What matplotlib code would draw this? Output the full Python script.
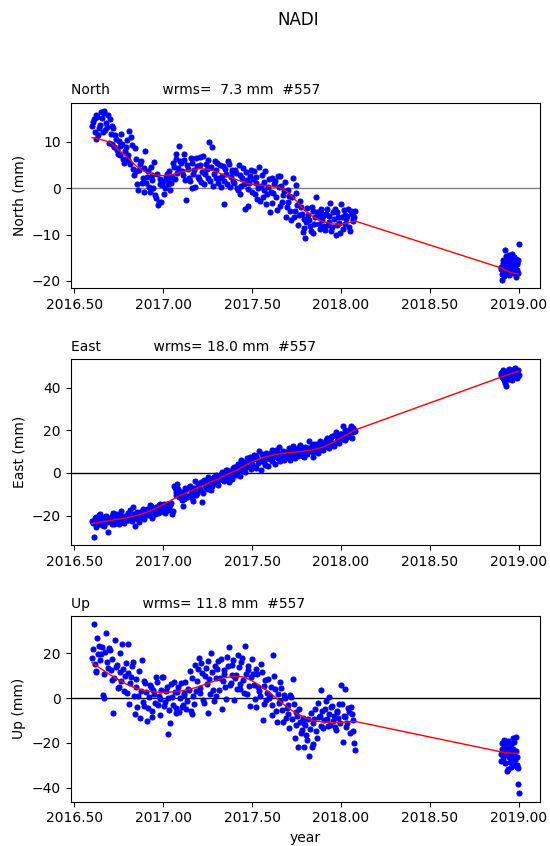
import matplotlib
matplotlib.use('Agg')
import matplotlib.pyplot as plt
from matplotlib.ticker import FormatStrFormatter

station = 'NADI'
n_obs = 557

# observation epochs (decimal year)
epochs = [
    2016.60, 2016.61, 2016.62, 2016.63, 2016.64, 2016.65, 2016.66, 2016.67, 2016.68, 2016.69,
    2016.70, 2016.71, 2016.72, 2016.73, 2016.74, 2016.75, 2016.76, 2016.77, 2016.78, 2016.79,
    2016.80, 2016.81, 2016.82, 2016.83, 2016.84, 2016.85, 2016.86, 2016.87, 2016.88, 2016.89,
    2016.90, 2016.91, 2016.92, 2016.93, 2016.94, 2016.95, 2016.96, 2016.97, 2016.98, 2016.99,
    2017.00, 2017.01, 2017.02, 2017.03, 2017.04, 2017.05, 2017.06, 2017.07, 2017.08, 2017.09,
    2017.10, 2017.11, 2017.12, 2017.13, 2017.14, 2017.15, 2017.16, 2017.17, 2017.18, 2017.19,
    2017.20, 2017.21, 2017.22, 2017.23, 2017.24, 2017.25, 2017.26, 2017.27, 2017.28, 2017.29,
    2017.30, 2017.31, 2017.32, 2017.33, 2017.34, 2017.35, 2017.36, 2017.37, 2017.38, 2017.39,
    2017.40, 2017.41, 2017.42, 2017.43, 2017.44, 2017.45, 2017.46, 2017.47, 2017.48, 2017.49,
    2017.50, 2017.51, 2017.52, 2017.53, 2017.54, 2017.55, 2017.56, 2017.57, 2017.58, 2017.59,
    2017.60, 2017.61, 2017.62, 2017.63, 2017.64, 2017.65, 2017.66, 2017.67, 2017.68, 2017.69,
    2017.70, 2017.71, 2017.72, 2017.73, 2017.74, 2017.75, 2017.76, 2017.77, 2017.78, 2017.79,
    2017.80, 2017.81, 2017.82, 2017.83, 2017.84, 2017.85, 2017.86, 2017.87, 2017.88, 2017.89,
    2017.90, 2017.91, 2017.92, 2017.93, 2017.94, 2017.95, 2017.96, 2017.97, 2017.98, 2017.99,
    2018.00, 2018.01, 2018.02, 2018.03, 2018.04, 2018.05, 2018.06, 2018.07, 2018.08,
    2018.900, 2018.905, 2018.910, 2018.915, 2018.920, 2018.925, 2018.930, 2018.935,
    2018.940, 2018.945, 2018.950, 2018.955, 2018.960, 2018.965, 2018.970, 2018.975,
    2018.980, 2018.985, 2018.990, 2018.995, 2019.000,
]

north = [
    13.5, 14.9, 10.7, 15.3, 12.9, 16.4, 12.1, 16.6, 14.1, 15.7,
    15.0, 9.5, 12.9, 11.4, 8.3, 10.2, 7.1, 9.6, 5.5, 8.8,
    6.0, 12.3, 11.1, 4.2, 8.6, 3.6, -0.4, 5.2, 1.0, -0.9,
    7.9, 2.4, 0.3, 4.6, 1.8, 5.6, -2.2, -3.6, 0.8, -2.9,
    1.6, 0.1, 3.1, 1.9, -0.4, 2.5, 4.6, 7.4, 3.2, 9.1,
    5.4, 2.8, 6.0, -2.5, 4.2, 1.5, 5.5, 3.0, 0.3, 4.8,
    2.0, 6.8, 3.5, 0.8, 5.3, 2.1, 9.9, 4.6, 0.4, 5.8,
    3.9, 1.0, 5.0, 2.7, -3.4, 4.2, 0.9, 5.3, 2.4, 4.0,
    1.0, 3.3, -0.5, 2.8, 0.4, 4.4, -4.4, 1.8, -3.8, 2.7,
    -0.8, 3.6, 1.2, -2.4, 4.6, 0.5, -1.9, 1.4, -3.5, 0.2,
    -5.2, 2.1, -1.0, 1.5, -4.8, 0.2, 2.7, -2.9, -0.6, -6.3,
    -3.0, -1.6, -6.8, 2.1, -4.9, 0.6, -7.9, -2.7, -5.5, -8.6,
    -10.8, -4.3, -6.9, -9.2, -5.0, -7.8, -2.0, -6.2, -8.9, -5.3,
    -6.0, -9.0, -4.4, -7.2, -3.3, -8.4, -6.6, -10.1, -5.2, -7.5,
    -3.5, -8.9, -5.8, -6.7, -4.6, -9.2, -5.5, -7.0, -5.0,
    -17.4, -19.8, -16.2, -18.9, -13.3, -17.0, -15.6, -18.1, -16.6, -14.5,
    -17.5, -15.2, -16.8, -18.4, -15.9, -14.8, -17.3, -19.2, -16.1, -15.4, -12.0,
]

east = [
    -22.5, -29.9, -20.8, -24.6, -19.8, -23.1, -21.5, -24.9, -20.3, -27.7,
    -21.0, -23.8, -18.9, -22.6, -20.2, -24.1, -19.6, -21.8, -23.3, -20.4,
    -18.7, -22.0, -20.5, -16.1, -24.9, -19.8, -21.6, -18.2, -20.9, -17.5,
    -19.8, -16.9, -18.3, -15.6, -20.2, -17.4, -15.9, -18.8, -14.6, -17.1,
    -16.2, -18.9, -14.5, -17.6, -15.0, -19.2, -6.3, -8.8, -5.4, -11.2,
    -9.0, -15.6, -12.3, -7.6, -10.8, -5.9, -8.4, -13.0, -3.9, -9.6,
    -5.3, -8.2, -13.6, -3.2, -6.9, -1.9, -5.5, -8.0, -2.6, -4.7,
    -1.0, -5.8, -2.9, 0.6, -3.9, -0.6, 1.4, -4.2, 0.8, -1.7,
    2.7, -0.9, 4.3, 1.2, 5.9, 2.0, 0.3, 6.8, 3.6, 7.5,
    4.1, 8.3, 2.5, 6.4, 10.4, 1.5, 7.6, 5.0, 9.2, 3.3,
    6.5, 11.0, 7.4, 4.2, 9.7, 12.1, 5.8, 8.6, 6.0, 10.0,
    7.2, 11.8, 8.5, 12.5, 6.9, 10.2, 8.0, 13.1, 9.3, 7.5,
    12.2, 8.7, 14.8, 10.9, 7.6, 13.4, 11.3, 9.5, 15.0, 12.0,
    10.9, 13.8, 16.5, 11.6, 14.9, 17.4, 12.8, 19.3, 15.1, 13.9,
    18.3, 22.1, 15.4, 19.2, 17.3, 20.6, 16.2, 21.0, 19.5,
    47.0, 45.2, 48.3, 43.5, 46.6, 44.2, 41.0, 47.5, 45.8, 43.9,
    46.9, 44.8, 48.0, 46.2, 45.1, 47.7, 49.4, 46.3, 44.9, 48.4, 45.8,
]

up = [
    18.0, 33.0, 12.2, 27.0, 23.4, 19.6, 1.5, 0.2, 29.0, 13.5,
    21.5, 8.2, -6.4, 26.0, 14.8, 5.0, 11.9, 24.3, 3.1, 15.9,
    24.2, -2.5, 9.6, 16.3, -7.0, 4.8, 1.2, -9.0, 17.3, -3.4,
    6.8, -10.2, 0.5, 4.9, -5.6, 1.9, 9.3, -3.0, -7.3, 3.8,
    9.5, -1.8, 5.2, -15.8, -10.9, 0.6, 7.2, -4.5, 2.6, -6.1,
    6.9, -3.0, 1.5, -5.0, 4.2, 12.3, -7.2, 0.9, 15.0, 7.5,
    17.8, 2.4, 11.2, -2.0, 13.6, -6.8, 8.7, 20.0, 3.5, 14.2,
    1.2, 16.8, 9.0, -4.8, 12.5, 5.1, 18.4, 22.8, 7.0, 14.9,
    -0.8, 10.2, 19.5, 4.3, 16.0, 8.0, 23.3, 1.9, 12.8, -3.6,
    17.5, 6.1, -4.0, 10.8, 3.2, 15.3, -9.8, 5.6, -1.0, 8.7,
    0.8, -7.5, 19.2, 3.9, -10.6, -2.1, 7.1, -5.3, 1.5, -8.7,
    -3.0, -13.4, 0.4, 8.6, -17.8, -6.0, -22.0, -10.5, -14.2, -21.7,
    -12.0, -18.5, -26.0, -6.8, -20.5, -9.3, -14.6, -2.0, -7.8, 3.6,
    -13.2, -5.0, -9.4, 0.5, -11.8, -3.4, -8.0, -14.1, -6.2, -2.6,
    5.8, -19.5, -8.5, -12.9, -4.3, -15.6, -6.9, -9.8, -23.0,
    -28.0, -22.5, -25.8, -18.5, -29.0, -20.7, -24.1, -32.6, -19.2, -26.5,
    -21.8, -30.9, -23.4, -18.0, -27.2, -25.0, -29.8, -17.2, -30.6, -38.2, -42.5,
]

# the in-between epochs
epochs_b = [
    2016.605, 2016.615, 2016.625, 2016.635, 2016.645, 2016.655, 2016.665, 2016.675, 2016.685, 2016.695,
    2016.705, 2016.715, 2016.725, 2016.735, 2016.745, 2016.755, 2016.765, 2016.775, 2016.785, 2016.795,
    2016.805, 2016.815, 2016.825, 2016.835, 2016.845, 2016.855, 2016.865, 2016.875, 2016.885, 2016.895,
    2016.905, 2016.915, 2016.925, 2016.935, 2016.945, 2016.955, 2016.965, 2016.975, 2016.985, 2016.995,
    2017.005, 2017.015, 2017.025, 2017.035, 2017.045, 2017.055, 2017.065, 2017.075, 2017.085, 2017.095,
    2017.105, 2017.115, 2017.125, 2017.135, 2017.145, 2017.155, 2017.165, 2017.175, 2017.185, 2017.195,
    2017.205, 2017.215, 2017.225, 2017.235, 2017.245, 2017.255, 2017.265, 2017.275, 2017.285, 2017.295,
    2017.305, 2017.315, 2017.325, 2017.335, 2017.345, 2017.355, 2017.365, 2017.375, 2017.385, 2017.395,
    2017.405, 2017.415, 2017.425, 2017.435, 2017.445, 2017.455, 2017.465, 2017.475, 2017.485, 2017.495,
    2017.505, 2017.515, 2017.525, 2017.535, 2017.545, 2017.555, 2017.565, 2017.575, 2017.585, 2017.595,
    2017.605, 2017.615, 2017.625, 2017.635, 2017.645, 2017.655, 2017.665, 2017.675, 2017.685, 2017.695,
    2017.705, 2017.715, 2017.725, 2017.735, 2017.745, 2017.755, 2017.765, 2017.775, 2017.785, 2017.795,
    2017.805, 2017.815, 2017.825, 2017.835, 2017.845, 2017.855, 2017.865, 2017.875, 2017.885, 2017.895,
    2017.905, 2017.915, 2017.925, 2017.935, 2017.945, 2017.955, 2017.965, 2017.975, 2017.985, 2017.995,
    2018.005, 2018.015, 2018.025, 2018.035, 2018.045, 2018.055, 2018.065, 2018.075,
    2018.9025, 2018.9075, 2018.9125, 2018.9175, 2018.9225, 2018.9275, 2018.9325,
    2018.9375, 2018.9425, 2018.9475, 2018.9525, 2018.9575, 2018.9625, 2018.9675,
    2018.9725, 2018.9775, 2018.9825, 2018.9875, 2018.9925, 2018.9975,
]

north_b = [
    14.2, 12.0, 15.8, 11.4, 13.6, 15.1, 16.2, 12.6, 13.2, 9.8,
    11.6, 13.3, 8.9, 10.6, 7.4, 9.1, 11.7, 6.3, 8.0, 10.4,
    7.2, 5.1, 9.4, 2.8, 6.3, 0.8, 3.9, 5.9, 2.1, 4.3,
    1.2, 3.7, -0.8, 2.9, 0.1, -1.5, 3.0, -3.0, 1.9, 0.6,
    -1.2, 2.4, 0.9, 3.8, 1.0, 5.5, 2.0, 6.2, 4.4, 5.8,
    3.6, 7.3, 1.8, 4.9, 2.2, 6.5, 0.0, 3.9, 6.4, 2.5,
    4.9, 1.3, 7.0, 3.0, 4.1, 6.1, 1.6, 8.8, 3.1, 2.2,
    5.4, 2.2, 0.3, 4.7, 1.6, 3.1, 5.9, 0.2, 3.5, 1.5,
    3.9, 0.0, 4.9, -1.3, 2.2, 0.8, 3.4, -0.2, 1.1, 4.0,
    1.9, -1.3, 2.5, 0.0, -2.8, 2.9, -0.4, 3.8, -1.2, 1.9,
    -0.9, -3.2, 0.9, -2.0, 2.6, -3.8, 0.5, -1.4, 1.3, -4.1,
    -0.5, -5.0, -2.0, -6.2, -1.1, -3.6, -5.9, -4.0, -9.5, -6.6,
    -7.3, -5.7, -8.2, -4.1, -9.6, -6.3, -5.1, -7.7, -4.5, -6.8,
    -8.1, -5.6, -7.9, -6.1, -9.2, -5.1, -4.5, -8.0, -6.3, -9.6,
    -6.2, -4.8, -7.7, -6.0, -8.3, -4.9, -6.6, -6.2,
    -16.9, -18.5, -15.4, -17.7, -16.0, -14.6, -17.9, -16.3, -18.8, -15.0,
    -16.5, -17.1, -14.2, -15.7, -16.9, -18.0, -15.3, -17.6, -16.4, -18.3,
]

east_b = [
    -23.6, -21.4, -25.2, -22.0, -19.2, -24.4, -22.3, -20.7, -23.1, -21.5,
    -22.9, -20.3, -24.0, -19.4, -22.5, -21.1, -17.8, -23.2, -20.0, -22.2,
    -20.1, -17.6, -22.6, -19.1, -21.4, -18.5, -23.0, -19.9, -16.8, -21.5,
    -17.8, -19.9, -15.2, -21.0, -17.0, -19.4, -16.4, -15.1, -18.5, -16.2,
    -14.8, -17.2, -15.9, -16.9, -14.0, -17.8, -7.2, -10.5, -7.5, -9.0,
    -12.5, -9.9, -7.0, -11.3, -6.4, -9.7, -12.0, -7.1, -10.3, -5.2,
    -7.6, -4.1, -9.5, -5.8, -3.1, -7.4, -4.4, -6.2, -1.9, -3.6,
    -4.5, -2.0, -0.4, -3.3, -1.8, 1.6, -2.5, 0.1, -3.0, 2.2,
    0.4, 3.3, 1.5, -1.5, 3.9, 5.1, 2.8, 4.4, 6.0, 1.7,
    6.6, 3.0, 7.9, 4.8, 5.5, 8.9, 6.3, 3.9, 7.0, 8.1,
    9.3, 5.6, 8.0, 10.6, 7.0, 8.8, 6.8, 10.4, 9.0, 8.2,
    9.8, 6.3, 10.9, 9.1, 11.2, 8.3, 12.3, 10.7, 7.9, 11.5,
    9.4, 11.7, 10.1, 12.9, 9.8, 11.9, 13.6, 10.6, 12.7, 14.2,
    13.1, 15.6, 12.3, 13.9, 16.9, 14.3, 17.9, 14.7, 16.2, 18.4,
    15.9, 17.8, 20.1, 16.8, 18.9, 22.0, 19.3, 20.4,
    45.9, 47.4, 44.6, 46.8, 42.3, 45.5, 47.9, 44.0, 46.1, 48.6,
    45.3, 47.2, 43.8, 46.5, 48.9, 45.0, 46.7, 47.8, 44.5, 46.0,
]

up_b = [
    22.0, 15.5, 11.5, 19.8, 17.0, 23.0, 10.8, 20.5, 16.2, 22.4,
    12.8, 17.6, 9.0, 13.9, 4.6, 20.2, 7.9, 13.0, 9.8, 2.5,
    11.3, 6.9, 14.5, 0.8, 8.4, -3.8, 12.0, 3.0, -1.5, 7.5,
    2.7, -4.6, 5.9, -8.5, 3.5, -2.3, 7.4, 0.9, -0.5, 9.6,
    -3.5, 3.1, 0.0, -5.4, 6.4, -2.9, 2.8, -6.7, 4.8, 0.3,
    -4.0, 2.2, 7.4, -1.3, 3.6, -5.8, 9.1, -2.7, 3.0, 12.9,
    4.6, 15.8, -0.6, 9.8, 6.3, 16.6, 1.9, 11.8, -1.2, 8.9,
    13.0, 3.8, 17.7, 7.6, 11.0, -0.3, 14.2, 5.9, 10.5, 16.9,
    8.9, 4.0, 13.8, 6.5, 17.9, 2.2, 11.0, 14.6, 5.5, 9.3,
    10.9, -0.5, 13.1, 4.9, 1.0, 11.6, -2.4, 8.3, 2.2, 0.1,
    5.0, -3.0, 10.1, -5.9, 2.0, -1.3, 4.6, -10.6, 0.0, -4.5,
    -7.2, 1.3, -9.5, -2.8, -12.0, -7.9, -4.8, -15.4, -8.8, -11.0,
    -16.4, -9.2, -13.7, -21.8, -11.2, -4.9, -17.6, -8.6, -12.4, -5.6,
    -9.8, -1.4, -12.6, -7.0, -3.9, -10.3, -12.8, -5.9, -9.0, -11.1,
    -2.5, -8.1, 4.2, -11.3, -6.0, -4.0, -14.7, -20.2,
    -24.8, -20.2, -27.5, -22.0, -25.3, -19.5, -23.2, -31.6, -21.0, -24.7,
    -28.4, -20.3, -26.1, -22.9, -19.8, -27.8, -23.7, -29.9, -26.4, -31.2,
]

# fitted model (red curve)
model_t = [
    2016.60, 2016.65, 2016.70, 2016.75, 2016.80, 2016.85, 2016.90, 2016.95,
    2017.00, 2017.05, 2017.10, 2017.15, 2017.20, 2017.25, 2017.30, 2017.35,
    2017.40, 2017.45, 2017.50, 2017.55, 2017.60, 2017.65, 2017.70, 2017.75,
    2017.80, 2017.85, 2017.90, 2017.95, 2018.00, 2018.05, 2018.08,
    2018.90, 2018.925, 2018.95, 2018.975, 2019.00,
]
north_model = [
    10.9, 10.5, 9.9, 8.2, 6.6, 4.7, 3.5, 2.9,
    2.7, 2.9, 3.5, 3.9, 4.2, 4.1, 3.5, 2.7,
    2.0, 1.3, 0.8, 0.6, 0.4, 0.2, -0.8, -2.8,
    -5.0, -6.3, -7.2, -7.7, -7.8, -7.4, -7.1,
    -17.2, -17.7, -18.1, -18.4, -18.5,
]
east_model = [
    -23.8, -23.0, -22.4, -21.7, -21.0, -20.0, -18.7, -17.0,
    -14.9, -12.6, -10.4, -8.6, -6.8, -5.0, -3.1, -1.1,
    0.8, 2.9, 5.2, 6.9, 8.0, 8.9, 9.5, 9.8,
    10.3, 11.0, 12.2, 14.1, 16.5, 18.8, 20.2,
    45.0, 45.7, 46.4, 47.1, 47.8,
]
up_model = [
    16.0, 13.2, 10.6, 8.2, 6.0, 4.4, 3.3, 2.8,
    2.6, 2.8, 3.3, 4.0, 5.2, 6.6, 8.0, 9.2,
    9.8, 9.5, 7.8, 5.3, 2.5, -0.9, -4.2, -6.8,
    -8.8, -10.0, -10.7, -10.9, -10.8, -10.5, -10.4,
    -24.0, -24.3, -24.5, -24.6, -24.6,
]

components = ['North', 'East', 'Up']
wrms = [7.3, 18.0, 11.8]
zero_colors = ['grey', 'black', 'black']

fig, axes = plt.subplots(3, 1, figsize=(5.5, 8.46), dpi=100)
fig.subplots_adjust(left=0.1285, right=0.982, top=0.8786, bottom=0.0524,
                    hspace=0.382)

series = [(north, north_b, north_model),
          (east, east_b, east_model),
          (up, up_b, up_model)]

for ax, name, w, zc, (vals, vals_b, mod) in zip(axes, components, wrms,
                                                 zero_colors, series):
    ax.plot(epochs + epochs_b, vals + vals_b, 'o', color='blue', ms=3.6,
            mew=0.8)
    ax.plot(model_t, mod, 'r-', lw=1)
    ax.axhline(0, color=zc, lw=1, zorder=0)
    ax.set_ylabel(f'{name} (mm)')
    ax.set_title(f'{name}            wrms={w:5.1f} mm  #{n_obs}',
                 loc='left', fontsize=10)
    ax.xaxis.set_major_formatter(FormatStrFormatter('%.2f'))
    ax.set_xticks([2016.5, 2017.0, 2017.5, 2018.0, 2018.5, 2019.0])

axes[-1].set_xlabel('year')
fig.text(0.542, 1 - 20 / 846, station, ha='center', va='center',
         fontsize=12)

plt.savefig('out.png', dpi=100)
